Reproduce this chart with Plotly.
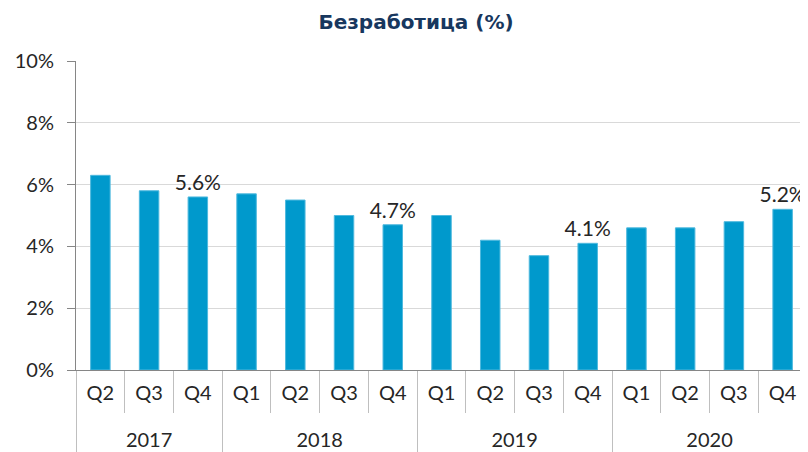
import plotly.graph_objects as go

years = ["2017"] * 3 + ["2018"] * 4 + ["2019"] * 4 + ["2020"] * 4
quarters = ["Q2", "Q3", "Q4", "Q1", "Q2", "Q3", "Q4", "Q1", "Q2", "Q3", "Q4", "Q1", "Q2", "Q3", "Q4"]
unemployment = [6.3, 5.8, 5.6, 5.7, 5.5, 5.0, 4.7, 5.0, 4.2, 3.7, 4.1, 4.6, 4.6, 4.8, 5.2]
y_ticks = [0, 2, 4, 6, 8, 10]

labels = [f"{v:.1f}%" if q == "Q4" else "" for q, v in zip(quarters, unemployment)]
year_display = ["<br>" + y for y in years]
# plotly orders second-level categories by first appearance; keep the partial first year distinct
quarter_display = [("\u200b" + q) if y == years[0] else q for y, q in zip(years, quarters)]

fig = go.Figure(go.Bar(
    x=[year_display, quarter_display],
    y=unemployment,
    marker=dict(color="#0099CC", line=dict(color="#4FB9DE", width=1)),
    text=labels,
    textposition="outside",
    constraintext="none",
    textfont=dict(size=21, color="#262626", family="Lato"),
    cliponaxis=False,
))

fig.update_layout(
    width=800, height=444,
    margin=dict(l=68, r=1, t=53, b=82),
    paper_bgcolor="white", plot_bgcolor="white",
    bargap=0.6,
    showlegend=False,
    font=dict(family="Lato", color="#262626", size=20),
    title=dict(text="<b>Безработица (%)</b>", x=0.51, xanchor="center", yref="container", y=0.968,
               yanchor="middle", font=dict(size=20, color="#17375E", family="DejaVu Sans")),
)
fig.update_yaxes(range=[0, 10], tickvals=y_ticks, ticktext=[f"{t}%" for t in y_ticks],
                 showgrid=True, gridcolor="#D9D9D9", automargin=False,
                 gridwidth=1, showline=True, linecolor="#868686", ticks="outside", ticklen=8,
                 ticklabelstandoff=9,
                 tickcolor="#868686", tickfont=dict(size=20), zeroline=False)
fig.update_xaxes(type="multicategory", automargin=False,
                 showline=True, linecolor="#868686", ticks="outside", ticklen=42, ticklabelstandoff=5,
                 tickcolor="#BFBFBF", tickson="boundaries", showdividers=True, dividercolor="#BFBFBF",
                 dividerwidth=1, tickfont=dict(size=20), showgrid=False)

fig.write_html("out.html")
